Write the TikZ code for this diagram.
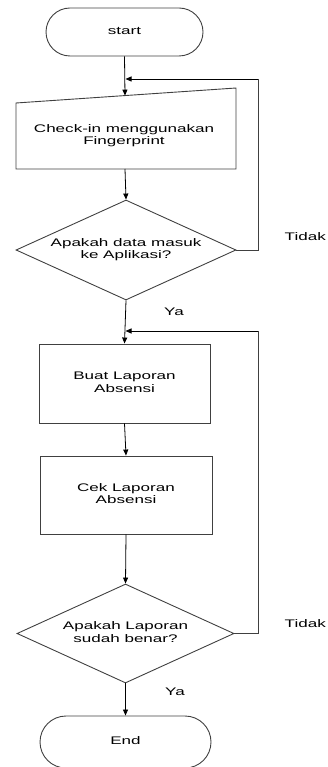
\documentclass[tikz,border=0pt]{standalone}
\usepackage{fontspec}
\setmainfont{Liberation Sans}
\usetikzlibrary{arrows.meta,shapes.geometric,shapes.misc}

% wide, slightly stretched label text
\newcommand{\wtxt}[1]{\scalebox{1.55}[1]{\begin{tabular}{@{}c@{}}#1\end{tabular}}}

\begin{document}
\begin{tikzpicture}[x=1pt,y=-1pt,
  font=\fontsize{11}{12.7}\selectfont,
  outline/.style={draw=black!75,line width=0.9pt},
  term/.style={outline,rounded rectangle,inner sep=0pt},
  procbox/.style={outline,rectangle,inner sep=0pt},
  decision/.style={outline,diamond,aspect=2.2,inner sep=0pt},
  lbl/.style={inner sep=0pt},
  arr/.style={draw=black,line width=0.8pt,-{Triangle[length=6pt,width=5pt]}},
  rail/.style={draw=black!75,line width=0.9pt}]

\useasboundingbox (0,0) rectangle (327,767);

% terminals
\node[term,minimum width=157pt,minimum height=48pt] (start) at (124.5,32) {\wtxt{start}};
\node[term,minimum width=171pt,minimum height=52pt] (end) at (125.5,742) {\wtxt{End}};

% manual input: check-in
\coordinate (minw) at (16,103);
\coordinate (mine) at (236,88);
\coordinate (mise) at (236,169);
\coordinate (misw) at (16,169);
\draw[outline] (minw) -- (mine) -- (mise) -- (misw) -- cycle;
\node[lbl] (check) at (124,136) {\wtxt{Check-in menggunakan\\Fingerprint}};
\coordinate (mitop) at (125,95.6);
\coordinate (mibot) at (125,169);

% first decision
\node[decision,minimum width=220pt,minimum height=100pt] (d1) at (126,250)
  {\wtxt{Apakah data masuk\\ke Aplikasi?}};

% processes
\node[procbox,minimum width=171pt,minimum height=79pt] (buat) at (124.5,383.5)
  {\wtxt{Buat Laporan\\Absensi}};
\node[procbox,minimum width=172pt,minimum height=78pt] (cek) at (126,495)
  {\wtxt{Cek Laporan\\Absensi}};

% second decision
\node[decision,minimum width=217pt,minimum height=99pt] (d2) at (125.5,633.5)
  {\wtxt{Apakah Laporan\\sudah benar?}};

% loop-back rails
\coordinate (rail1) at (258,79);
\coordinate (join1) at (125.5,79);
\coordinate (rail2) at (258,331);
\coordinate (join2) at (125.5,331);

% main flow
\draw[arr] (start.south) -- (mitop);
\draw[arr] (mibot) -- (d1.north);
\draw[arr] (d1.south) -- (buat.north);
\draw[arr] (buat.south) -- (cek.north);
\draw[arr] (cek.south) -- (d2.north);
\draw[arr] (d2.south) -- (end.north);

% "Tidak" branches back up
\draw[rail] (d1.east) -| (rail1);
\draw[arr] (rail1) -- (join1);
\draw[rail] (d2.east) -| (rail2);
\draw[arr] (rail2) -- (join2);

% branch labels
\node[lbl,anchor=east] (tidak1) at (326,237.7) {\wtxt{Tidak}};
\node[lbl] (ya1) at (174,313) {\wtxt{Ya}};
\node[lbl,anchor=east] (tidak2) at (326,625) {\wtxt{Tidak}};
\node[lbl] (ya2) at (175,692.5) {\wtxt{Ya}};

\end{tikzpicture}
\end{document}
